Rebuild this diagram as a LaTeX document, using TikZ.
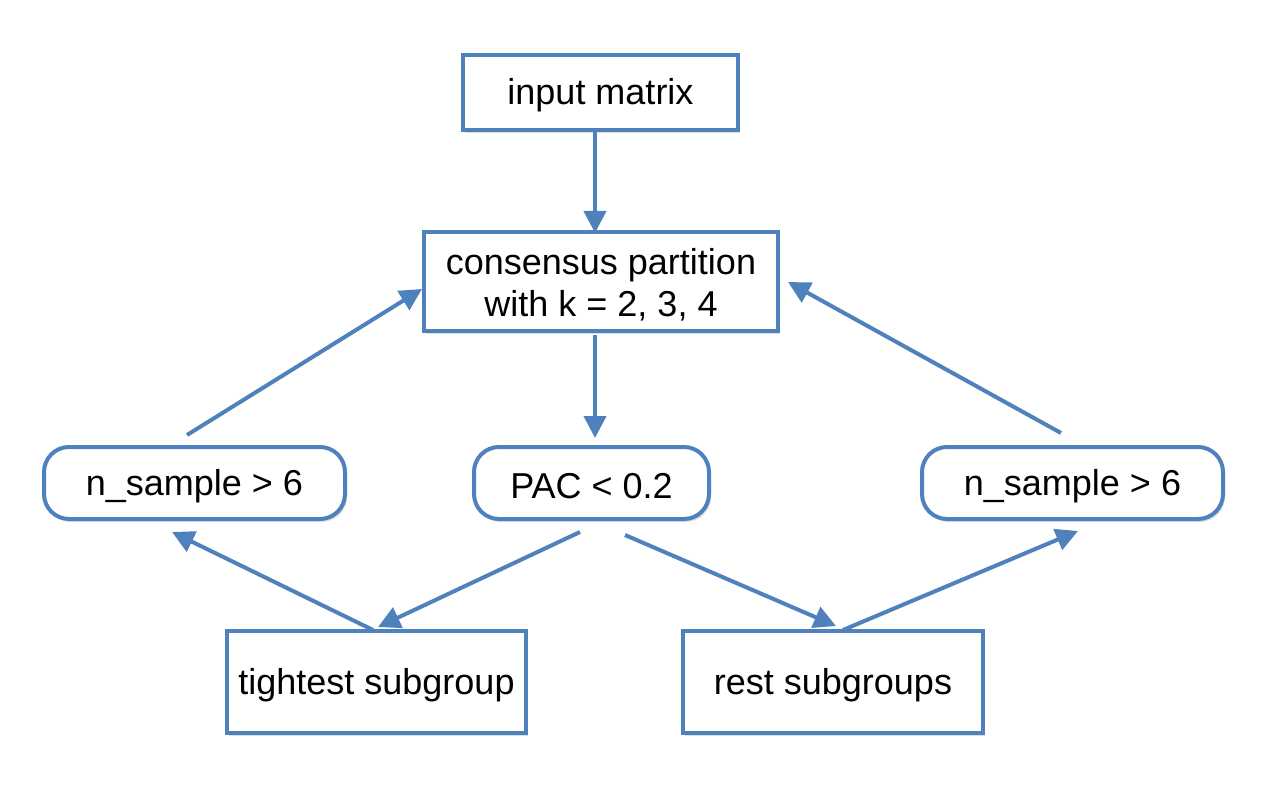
\documentclass[tikz,border=0pt]{standalone}
\usepackage{fontspec}
\setmainfont{Liberation Sans}
\usetikzlibrary{arrows.meta,shadows}
\definecolor{bl}{HTML}{4F81BD}
\newcommand{\dn}[1]{\raisebox{-3pt}[\height][\depth]{#1}}
\begin{document}
\begin{tikzpicture}[x=1pt,y=-1pt,
  box/.style={draw=bl,line width=4pt,fill=white,inner sep=0pt,align=center,font=\fontsize{36}{42}\selectfont,
    drop shadow={opacity=0.25,shadow xshift=2pt,shadow yshift=-3pt}},
  rbox/.style={box,rounded corners=25pt},
  arr/.style={draw=bl,line width=4pt,-{Triangle[length=22pt,width=22pt]}}]
\useasboundingbox (0,0) rectangle (1276,794);
\node[box,minimum width=275pt,minimum height=75pt] (in) at (600.5,92.5) {\dn{input matrix}};
\node[box,minimum width=354pt,minimum height=99pt] (cp) at (601,281.5) {\dn{consensus partition}\\\dn{with k = 2, 3, 4}};
\node[rbox,minimum width=301pt,minimum height=72pt] (nl) at (194.5,483) {\dn{n\_sample > 6}};
\node[rbox,minimum width=235pt,minimum height=72pt] (pac) at (591.5,483) {\dn{PAC < 0.2}};
\node[rbox,minimum width=301pt,minimum height=72pt] (nr) at (1072.5,483) {\dn{n\_sample > 6}};
\node[box,minimum width=299pt,minimum height=102pt] (ts) at (376.5,682) {\dn{tightest subgroup}};
\node[box,minimum width=300pt,minimum height=102pt] (rs) at (833,682) {\dn{rest subgroups}};
\coordinate (a1) at (595,130); \coordinate (a2) at (595,233);
\coordinate (b1) at (595,335); \coordinate (b2) at (595,438);
\coordinate (c1) at (187,435); \coordinate (c2) at (422,289);
\coordinate (d1) at (1061,433); \coordinate (d2) at (788,282);
\coordinate (e1) at (580,532); \coordinate (e2) at (378,627);
\coordinate (f1) at (625,535); \coordinate (f2) at (836,626);
\coordinate (g1) at (373,630); \coordinate (g2) at (172,532);
\coordinate (h1) at (843,630); \coordinate (h2) at (1078,531);
\draw[arr] (a1) -- (a2);
\draw[arr] (b1) -- (b2);
\draw[arr] (c1) -- (c2);
\draw[arr] (d1) -- (d2);
\draw[arr] (e1) -- (e2);
\draw[arr] (f1) -- (f2);
\draw[arr] (g1) -- (g2);
\draw[arr] (h1) -- (h2);
\end{tikzpicture}
\end{document}
